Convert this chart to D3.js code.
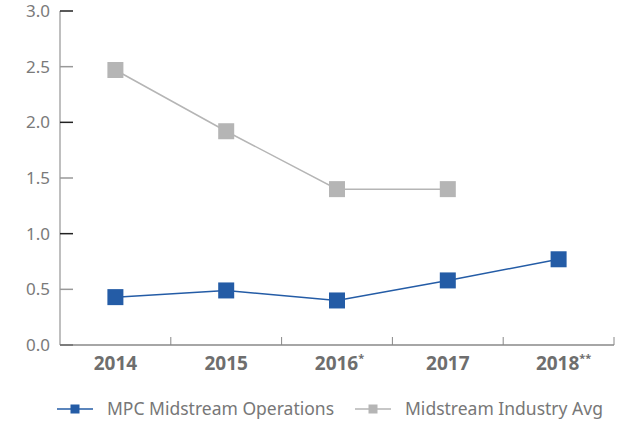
<!DOCTYPE html>
<html>
<head>
<meta charset="utf-8">
<script src="https://cdn.jsdelivr.net/npm/d3@7"></script>
<style>
  body { margin: 0; background: #fff; }
  text { font-family: "Noto Sans", sans-serif; }
</style>
</head>
<body>
<svg width="621" height="428"></svg>
<script>
// Safety chart: MPC midstream vs industry average

var years = ["2014", "2015", "2016", "2017", "2018"];
var yearNotes = ["", "", "*", "", "**"];
var mpcValues = [0.43, 0.49, 0.40, 0.58, 0.77];
var industryValues = [2.47, 1.92, 1.40, 1.40, null];
var yTicks = [0, 0.5, 1.0, 1.5, 2.0, 2.5, 3.0];
var seriesNames = ["MPC Midstream Operations", "Midstream Industry Avg"];
var seriesColors = ["#245ca6", "#b5b5b5"];

var svg = d3.select("svg");
var plotLeft = 60, plotRight = 614, plotTop = 11, plotBottom = 345;

var x = d3.scaleBand().domain(years).range([plotLeft, plotRight]);
var y = d3.scaleLinear().domain([0, 3]).range([plotBottom, plotTop]);

// y axis
svg.append("line")
	.attr("x1", plotLeft).attr("x2", plotLeft)
	.attr("y1", plotTop).attr("y2", plotBottom)
	.attr("stroke", "#aaa").attr("stroke-width", 1.5);

svg.append("g").selectAll("line")
	.data(yTicks)
	.enter().append("line")
	.attr("x1", plotLeft).attr("x2", plotLeft + 13)
	.attr("y1", d => y(d)).attr("y2", d => y(d))
	.attr("stroke", (d, i) => i % 2 == 0 ? "#222" : "#999")
	.attr("stroke-width", 1.5);

svg.append("g").selectAll("text")
	.data(yTicks)
	.enter().append("text")
	.attr("x", 50)
	.attr("y", d => y(d))
	.attr("dy", "0.36em")
	.attr("text-anchor", "end")
	.attr("fill", "#7a7a7a")
	.attr("font-size", 17)
	.text(d => d.toFixed(1));

// x axis
svg.append("line")
	.attr("x1", plotLeft).attr("x2", plotRight)
	.attr("y1", plotBottom).attr("y2", plotBottom)
	.attr("stroke", "#888").attr("stroke-width", 1.5);

svg.append("g").selectAll("line")
	.data(years)
	.enter().append("line")
	.attr("x1", d => x(d) + x.bandwidth())
	.attr("x2", d => x(d) + x.bandwidth())
	.attr("y1", plotBottom).attr("y2", plotBottom - 8)
	.attr("stroke", "#888").attr("stroke-width", 1);

var xl = svg.append("g").selectAll("text")
	.data(years)
	.enter().append("text")
	.attr("x", d => x(d) + x.bandwidth() / 2)
	.attr("y", 370)
	.attr("text-anchor", "middle")
	.attr("fill", "#6e6e6e")
	.attr("font-size", 19)
	.attr("font-weight", "bold");
xl.append("tspan").text(d => d);
xl.append("tspan")
	.attr("font-size", 11)
	.attr("dy", -8)
	.text((d, i) => yearNotes[i]);
// keep the year itself centred on the band
xl.attr("dx", (d, i) => yearNotes[i].length * 2.5);

// series
var line = d3.line()
	.defined(d => d.v != null)
	.x(d => x(d.year) + x.bandwidth() / 2)
	.y(d => y(d.v));

[industryValues, mpcValues].forEach((vals, k) => {
	var idx = k == 0 ? 1 : 0;
	var pts = years.map((yr, i) => ({year: yr, v: vals[i]}));
	var g = svg.append("g");
	g.append("path")
		.attr("d", line(pts))
		.attr("fill", "none")
		.attr("stroke", seriesColors[idx])
		.attr("stroke-width", 1.5);
	g.selectAll("rect")
		.data(pts.filter(p => p.v != null))
		.enter().append("rect")
		.attr("x", p => x(p.year) + x.bandwidth() / 2 - 8)
		.attr("y", p => y(p.v) - 8)
		.attr("width", 16).attr("height", 16)
		.attr("fill", seriesColors[idx]);
});

// legend
var legendX = [57, 355];
var lg = svg.append("g").selectAll("g")
	.data(seriesNames)
	.enter().append("g")
	.attr("transform", (d, i) => "translate(" + legendX[i] + ",409)");
lg.append("line")
	.attr("x1", 0).attr("x2", 36)
	.attr("stroke", (d, i) => seriesColors[i]).attr("stroke-width", 1.5);
lg.append("rect")
	.attr("x", 13.5).attr("y", -4.5).attr("width", 9).attr("height", 9)
	.attr("fill", (d, i) => seriesColors[i]);
lg.append("text")
	.attr("x", 50)
	.attr("dy", "0.36em")
	.attr("fill", "#777")
	.attr("font-size", 17.5)
	.text(d => d);
</script>
</body>
</html>
